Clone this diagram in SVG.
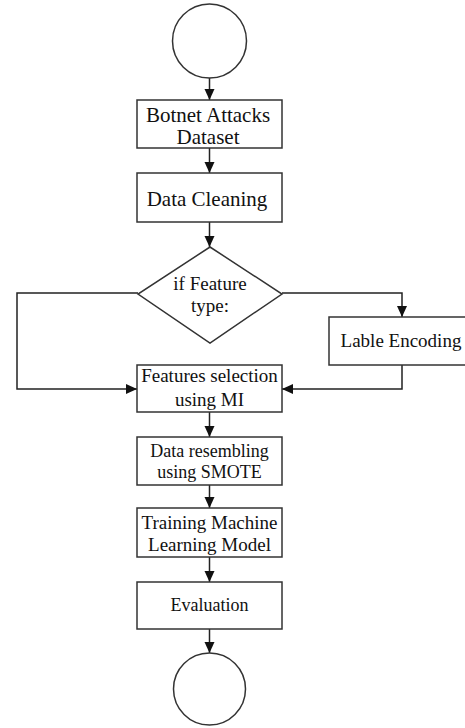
<svg xmlns="http://www.w3.org/2000/svg" width="465" height="728" viewBox="0 0 465 728">
<style>
.n{fill:#fff;stroke:#333;stroke-width:1.5}
.t{font-family:"Liberation Serif","Times New Roman",serif;fill:#111;text-anchor:middle}
.c{fill:none;stroke:#222;stroke-width:1.5}
</style>
<defs>
<marker id="ah" markerUnits="userSpaceOnUse" markerWidth="12" markerHeight="12" viewBox="0 0 12 12" refX="11" refY="6" orient="auto">
<path d="M0,1 L11,6 L0,11 Z" fill="#111"/>
</marker>
</defs>
<rect width="465" height="728" fill="#fff"/>
<g id="connectors">
<path class="c" d="M209.5,78 V100" marker-end="url(#ah)"/>
<path class="c" d="M209.5,148 V173" marker-end="url(#ah)"/>
<path class="c" d="M209.5,222 V247" marker-end="url(#ah)"/>
<path class="c" d="M138,293 H17 V389 H137" marker-end="url(#ah)"/>
<path class="c" d="M282,293 H402 V317" marker-end="url(#ah)"/>
<path class="c" d="M402,365 V389 H282" marker-end="url(#ah)"/>
<path class="c" d="M209.5,412 V437" marker-end="url(#ah)"/>
<path class="c" d="M209.5,485 V508" marker-end="url(#ah)"/>
<path class="c" d="M209.5,557 V582" marker-end="url(#ah)"/>
<path class="c" d="M209.5,629 V653" marker-end="url(#ah)"/>
</g>
<g id="start"><circle class="n" cx="209.5" cy="41" r="37"/></g>
<g id="dataset"><rect class="n" x="137" y="100" width="145" height="48"/>
<text class="t" x="208" y="122" font-size="21">Botnet Attacks</text>
<text class="t" x="208" y="144" font-size="21">Dataset</text></g>
<g id="cleaning"><rect class="n" x="137" y="173" width="145" height="49"/>
<text class="t" x="207" y="206" font-size="21">Data Cleaning</text></g>
<g id="decision"><path class="n" d="M210,247 L282,294 L210,343 L138,294 Z"/>
<text class="t" x="210" y="290" font-size="19">if Feature</text>
<text class="t" x="210" y="312" font-size="19">type:</text></g>
<g id="encoding"><rect class="n" x="329" y="317" width="146" height="48"/>
<text class="t" x="401" y="347" font-size="19">Lable Encoding</text></g>
<g id="selection"><rect class="n" x="137" y="365" width="145" height="47"/>
<text class="t" x="209.5" y="382" font-size="19">Features selection</text>
<text class="t" x="209.5" y="406" font-size="19">using MI</text></g>
<g id="smote"><rect class="n" x="137" y="437" width="145" height="48"/>
<text class="t" x="209.5" y="457" font-size="18">Data resembling</text>
<text class="t" x="209.5" y="478" font-size="18">using SMOTE</text></g>
<g id="training"><rect class="n" x="137" y="508" width="145" height="49"/>
<text class="t" x="209.5" y="529" font-size="19">Training Machine</text>
<text class="t" x="209.5" y="551" font-size="19">Learning Model</text></g>
<g id="evaluation"><rect class="n" x="137" y="582" width="145" height="47"/>
<text class="t" x="209.5" y="611" font-size="18">Evaluation</text></g>
<g id="end"><circle class="n" cx="209.5" cy="689" r="36"/></g>
</svg>
